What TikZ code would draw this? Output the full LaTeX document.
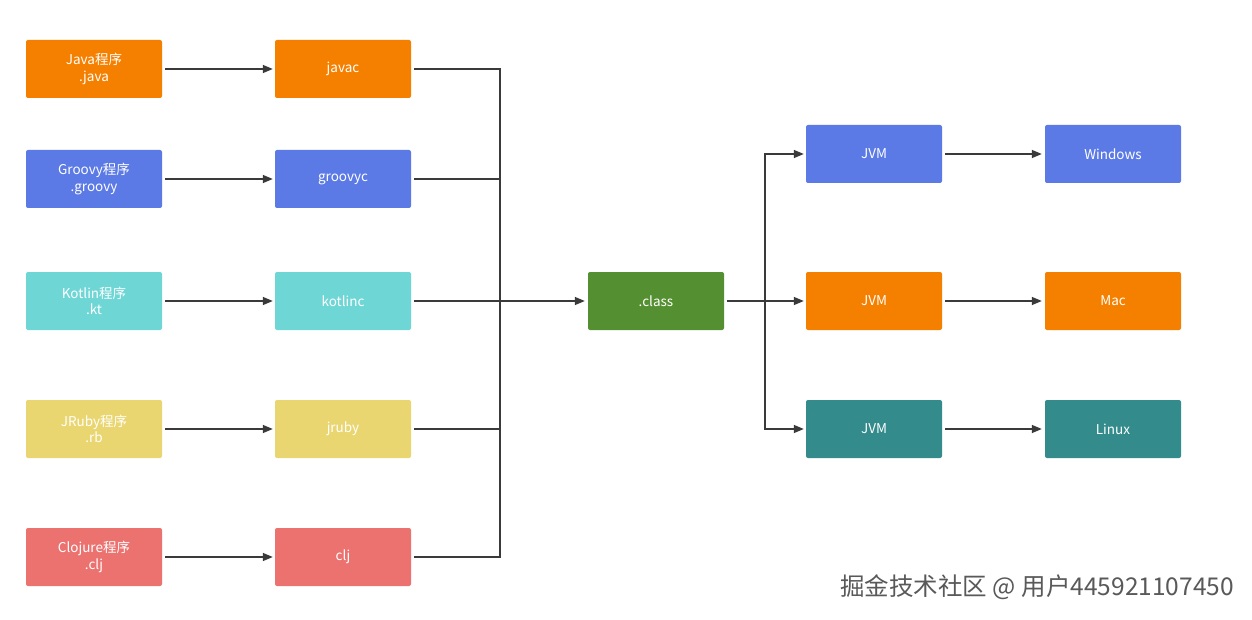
\documentclass[tikz,border=0pt]{standalone}
\usepackage{fontspec}
\setmainfont{Noto Sans CJK SC}
\usetikzlibrary{arrows.meta}

\definecolor{orng}{HTML}{F58000}
\definecolor{blu}{HTML}{5B7AE6}
\definecolor{cyn}{HTML}{6FD6D6}
\definecolor{ylw}{HTML}{EAD670}
\definecolor{rd}{HTML}{EC7270}
\definecolor{grn}{HTML}{548F31}
\definecolor{tl}{HTML}{348B8B}
\definecolor{linec}{HTML}{3A3A3A}

\tikzset{
 box/.style={rounded corners=2pt,minimum width=136pt,minimum height=58pt,
  text=white,align=center,font=\fontsize{13.5}{16.5}\selectfont,inner sep=0pt},
 wire/.style={draw=linec,line width=1.4pt},
 arr/.style={draw=linec,line width=1.4pt,-{Triangle[length=10pt,width=8pt]}}
}

\begin{document}
\begin{tikzpicture}[x=1pt,y=-1pt]
\useasboundingbox[fill=white] (0,0) rectangle (1252,620);

% sources and compilers
\node[box,fill=orng] (java) at (94,69) {Java程序\\.java};
\node[box,fill=blu] (groovy) at (94,179) {Groovy程序\\.groovy};
\node[box,fill=cyn] (kotlin) at (94,301) {Kotlin程序\\.kt};
\node[box,fill=ylw] (jruby) at (94,429) {JRuby程序\\.rb};
\node[box,fill=rd] (clojure) at (94,557) {Clojure程序\\.clj};

\node[box,fill=orng] (javac) at (343,69) {javac};
\node[box,fill=blu] (groovyc) at (343,179) {groovyc};
\node[box,fill=cyn] (kotlinc) at (343,301) {kotlinc};
\node[box,fill=ylw] (jrubyc) at (343,429) {jruby};
\node[box,fill=rd] (cljc) at (343,557) {clj};

\node[box,fill=grn] (cls) at (656,301) {.class};

\node[box,fill=blu] (jvmw) at (874,154) {JVM};
\node[box,fill=orng] (jvmm) at (874,301) {JVM};
\node[box,fill=tl] (jvml) at (874,429) {JVM};

\node[box,fill=blu] (win) at (1113,154) {Windows};
\node[box,fill=orng] (mac) at (1113,301) {Mac};
\node[box,fill=tl] (linux) at (1113,429) {Linux};

\coordinate (busin) at (500,301);
\coordinate (busout) at (765,301);

\foreach \a/\b in {java/javac,groovy/groovyc,kotlin/kotlinc,jruby/jrubyc,clojure/cljc}{
 \draw[arr,shorten <=3pt,shorten >=2pt] (\a) -- (\b);
 \draw[wire,shorten <=3pt] (\b) -| (busin);
}
\draw[arr,shorten >=3pt] (busin) -- (cls);
\draw[wire,shorten <=3pt] (cls) -- (busout);
\foreach \j/\o in {jvmw/win,jvmm/mac,jvml/linux}{
 \draw[arr,shorten >=2pt] (busout) |- (\j);
 \draw[arr,shorten <=3pt,shorten >=3pt] (\j) -- (\o);
}

\node[text=black!65,font=\fontsize{24.5}{28}\selectfont,anchor=east,inner sep=0pt] (mark) at (1234,587) {掘金技术社区 @ 用户445921107450};
\end{tikzpicture}
\end{document}
